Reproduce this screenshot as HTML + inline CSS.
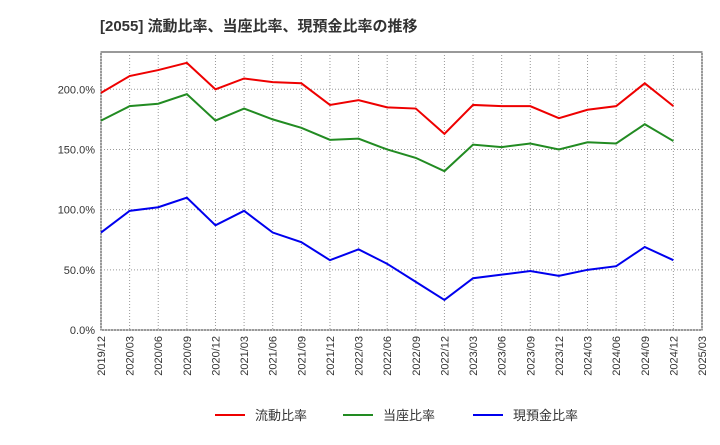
<!DOCTYPE html>
<html><head><meta charset="utf-8"><style>
body{margin:0;background:#fff;font-family:"Liberation Sans","Noto Sans CJK JP",sans-serif;}
</style></head><body>
<svg id="c" width="720" height="440" xmlns="http://www.w3.org/2000/svg">
<text x="100" y="31" font-size="15" font-weight="bold" fill="#333" font-family="Liberation Sans, Noto Sans CJK JP, sans-serif">[2055]  流動比率、当座比率、現預金比率の推移</text>
<g id="grid"></g><g id="axes"></g><g id="series"></g><g id="legend"></g>
</svg>
<script>
const categories=["2019/12","2020/03","2020/06","2020/09","2020/12","2021/03","2021/06","2021/09","2021/12","2022/03","2022/06","2022/09","2022/12","2023/03","2023/06","2023/09","2023/12","2024/03","2024/06","2024/09","2024/12","2025/03"];
const currentRatio=[197,211,216,222,200,209,206,205,187,191,185,184,163,187,186,186,176,183,186,205,186];
const quickRatio=[174,186,188,196,174,184,175,168,158,159,150,143,132,154,152,155,150,156,155,171,157];
const cashRatio=[81,99,102,110,87,99,81,73,58,67,55,40,25,43,46,49,45,50,53,69,58];
const yTicks=[0,50,100,150,200];
const yTickLabels=["0.0%","50.0%","100.0%","150.0%","200.0%"];
const seriesNames=["流動比率","当座比率","現預金比率"];
const colors=["#e00","#228b22","#00e"];
const L=101,R=702,T=52,B=330,YMAX=231;
const NS="http://www.w3.org/2000/svg";
const xs=i=>L+(R-L)*i/(categories.length-1);
const ys=v=>B-(B-T)*v/YMAX;
function mk(tag,attrs,parent,txt){const e=document.createElementNS(NS,tag);for(const k in attrs)e.setAttribute(k,attrs[k]);if(txt!==undefined)e.textContent=txt;document.getElementById(parent).appendChild(e);return e;}
const bg=mk("rect",{x:L,y:T,width:R-L,height:B-T,fill:"#fff",stroke:"#333"},"grid");


yTicks.forEach((v,i)=>{
 const g=mk("line",{x1:L,x2:R,y1:ys(v),y2:ys(v),stroke:"#999","stroke-dasharray":"1,2"},"grid");
 
 
 const t=mk("text",{x:L-6,y:ys(v)+4,"text-anchor":"end","font-size":"11",fill:"#333"},"axes",yTickLabels[i]);
 
 
});
categories.forEach((c,i)=>{
 const g=mk("line",{x1:xs(i),x2:xs(i),y1:T,y2:B,stroke:"#999","stroke-dasharray":"1,2"},"grid");
 
 
 const t=mk("text",{x:0,y:0,"text-anchor":"end","font-size":"11",fill:"#333",transform:`translate(${xs(i)+4},${B+6}) rotate(-90)`},"axes",c);
 
 
});
[currentRatio,quickRatio,cashRatio].forEach((arr,s)=>{
 const p=mk("polyline",{points:arr.map((v,i)=>xs(i)+","+ys(v)).join(" "),fill:"none",stroke:colors[s],"stroke-width":"2"},"series");
 
 
 const lx=[215,343,473][s];
 const ll=mk("line",{x1:lx,x2:lx+30,y1:415,y2:415,stroke:colors[s],"stroke-width":"2"},"legend");
 
 
 const lt=mk("text",{x:lx+40,y:420,"font-size":"13",fill:"#333"},"legend",seriesNames[s]);
 
 
});
</script>
</body></html>
